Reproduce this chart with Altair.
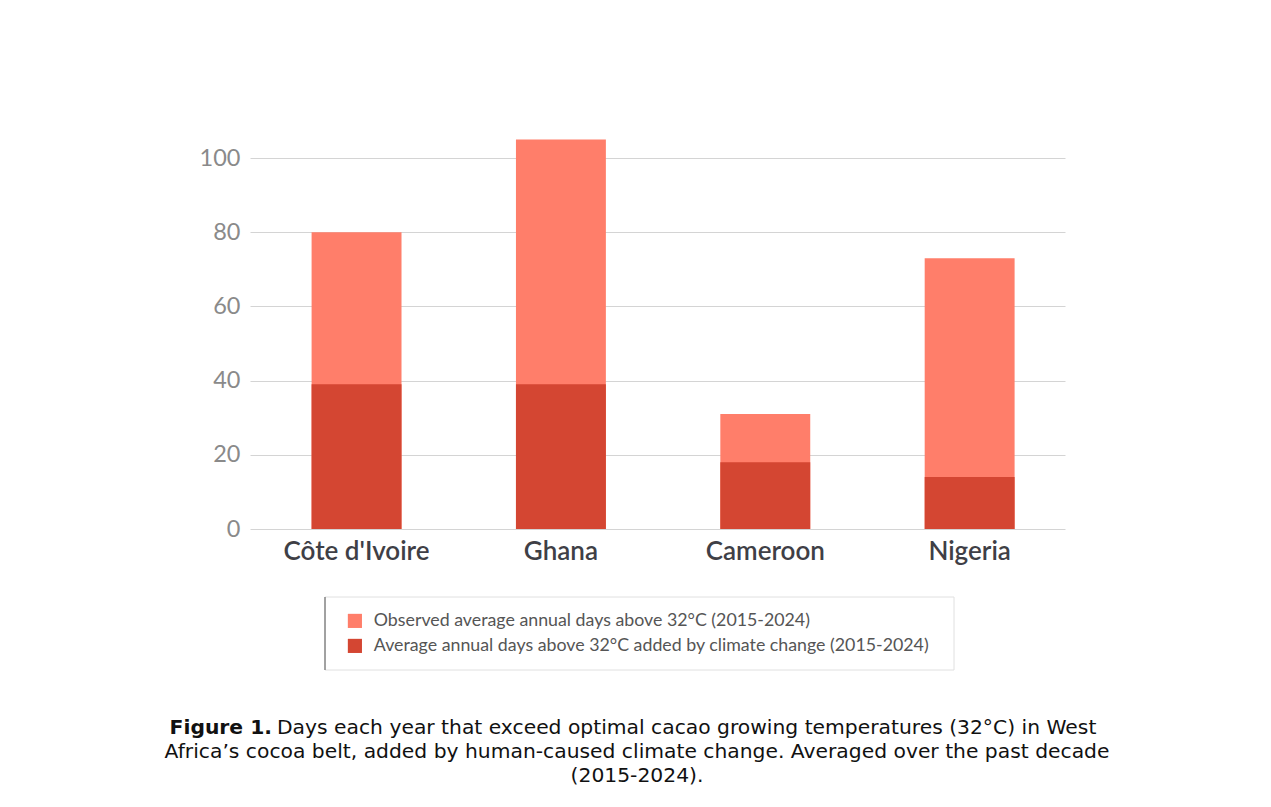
import altair as alt
import pandas as pd

countries = ["Côte d'Ivoire", "Ghana", "Cameroon", "Nigeria"]
observed = [80, 105, 31, 73]
added = [39, 39, 18, 14]
series_names = [
    "Observed average annual days above 32°C (2015-2024)",
    "Average annual days above 32°C added by climate change (2015-2024)",
]
colors = ["#FF7E6A", "#D44632"]
y_ticks = [0, 20, 40, 60, 80, 100]
caption_bold = "Figure 1."
caption_lines = [
    "Days each year that exceed optimal cacao growing temperatures (32°C) in West",
    "Africa’s cocoa belt, added by human-caused climate change. Averaged over the past decade",
    "(2015-2024).",
]

rows = []
for c, v in zip(countries, observed):
    rows.append({"country": c, "series": series_names[0], "value": v, "ord": 0})
for c, v in zip(countries, added):
    rows.append({"country": c, "series": series_names[1], "value": v, "ord": 1})
df = pd.DataFrame(rows)

W, H = 815, 408
PL, PT = 250, 121
CAP_FONT = "DejaVu Sans"
CAP_SIZE = 20.3

one = pd.DataFrame({"a": [0]})

legend_box = alt.Chart(one).mark_rect(fill="white", stroke="#e0e0e0", strokeWidth=1).encode(
    x=alt.value(75), x2=alt.value(704), y=alt.value(476), y2=alt.value(549))
legend_edge = alt.Chart(one).mark_rule(color="#555555", strokeWidth=1).encode(
    x=alt.value(75), y=alt.value(476), y2=alt.value(549))

bars = alt.Chart(df).mark_bar().encode(
    x=alt.X("country:N", sort=countries,
            scale=alt.Scale(paddingInner=0.56, paddingOuter=0.274, align=0.55),
            axis=alt.Axis(title=None, labelAngle=0, labelFontSize=26, labelFont="Lato",
                          labelFontWeight=600, labelColor="#3f3f46", labelPadding=9,
                          domain=False, ticks=False)),
    y=alt.Y("value:Q", stack=None, scale=alt.Scale(domain=[0, 110], nice=False),
            axis=alt.Axis(title=None, values=y_ticks, labelFontSize=23.5, labelFont="Lato",
                          labelColor="#8a8a8a", labelPadding=10, domain=False, ticks=False,
                          gridColor="#d4d4d4", gridWidth=1)),
    color=alt.Color("series:N", scale=alt.Scale(domain=series_names, range=colors),
                    legend=alt.Legend(title=None, orient="none", legendX=96, legendY=491,
                                      direction="vertical", symbolType="square", symbolSize=200,
                                      labelFontSize=17.8, labelFont="Lato", labelColor="#555555",
                                      labelLimit=800, padding=0, rowPadding=6, labelOffset=10)),
    order=alt.Order("ord:Q"),
)

cap_bold = alt.Chart(one).mark_text(font=CAP_FONT, fontSize=CAP_SIZE, fontWeight="bold",
                                    align="right", baseline="middle", color="#111111").encode(
    x=alt.value(22), y=alt.value(607), text=alt.value(caption_bold))
cap1 = alt.Chart(one).mark_text(font=CAP_FONT, fontSize=CAP_SIZE, align="left",
                                baseline="middle", color="#111111").encode(
    x=alt.value(27), y=alt.value(607), text=alt.value(caption_lines[0]))
cap2 = alt.Chart(one).mark_text(font=CAP_FONT, fontSize=CAP_SIZE, align="center",
                                baseline="middle", color="#111111").encode(
    x=alt.value(387), y=alt.value(631), text=alt.value(caption_lines[1]))
cap3 = alt.Chart(one).mark_text(font=CAP_FONT, fontSize=CAP_SIZE, align="center",
                                baseline="middle", color="#111111").encode(
    x=alt.value(387), y=alt.value(655), text=alt.value(caption_lines[2]))

chart = alt.layer(legend_box, legend_edge, bars, cap_bold, cap1, cap2, cap3).properties(
    width=W, height=H,
    background="white",
    autosize=alt.AutoSizeParams(type="none"),
    padding={"left": PL, "top": PT, "right": 1271 - PL - W, "bottom": 807 - PT - H},
).configure_view(strokeWidth=0, stroke=None)

chart.save("out.html", embed_options={"renderer": "svg", "actions": False})
